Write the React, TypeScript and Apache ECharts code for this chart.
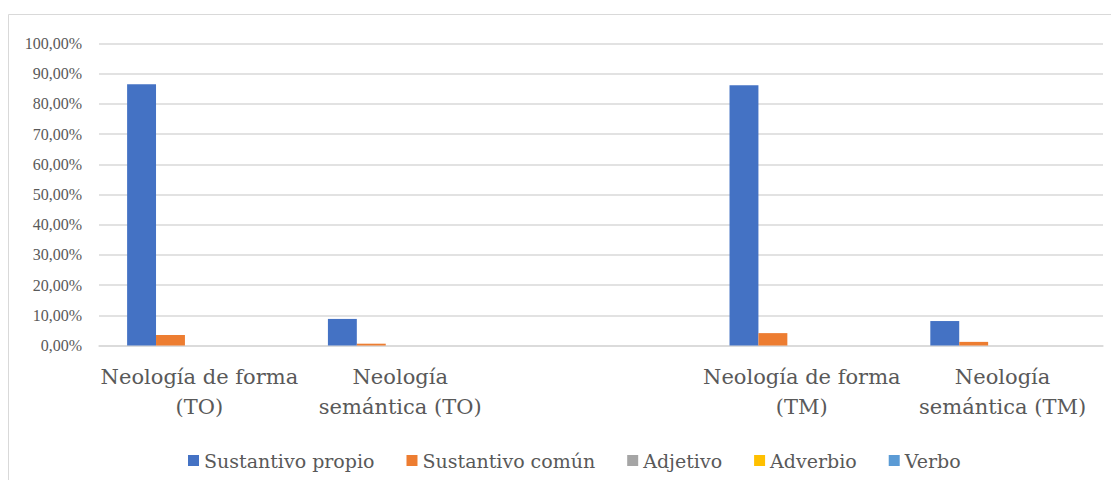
import React, { useEffect, useRef } from "react";
import * as echarts from "echarts";

const categories = [
  "Neología de forma\n(TO)",
  "Neología\nsemántica (TO)",
  "",
  "Neología de forma\n(TM)",
  "Neología\nsemántica (TM)",
];
const seriesNames = ["Sustantivo propio", "Sustantivo común", "Adjetivo", "Adverbio", "Verbo"];
const sustantivoPropio = [86.5, 8.8, null, 86.2, 8.1];
const sustantivoComun = [3.5, 0.6, null, 4.1, 1.2];
const adjetivo = [0, 0, null, 0, 0];
const adverbio = [0, 0, null, 0, 0];
const verbo = [0, 0, null, 0, 0];
const colors = ["#4472C4", "#ED7D31", "#A5A5A5", "#FFC000", "#5B9BD5"];

const SERIF = "'Liberation Serif', 'Times New Roman', serif";
const DSERIF = "'DejaVu Serif', serif";

export default function App() {
  const ref = useRef<HTMLDivElement>(null);
  useEffect(() => {
    if (!ref.current) return;
    const chart = echarts.init(ref.current, undefined, { renderer: "svg" });
    const values = [sustantivoPropio, sustantivoComun, adjetivo, adverbio, verbo];
    chart.setOption({
      animation: false,
      color: colors,
      graphic: [
        {
          type: "rect",
          shape: { x: 0.5, y: 6.5, width: 2000, height: 1000 },
          style: { fill: "none", stroke: "#d9d9d9", lineWidth: 1 },
          silent: true,
        },
      ],
      grid: { left: 91, right: 16, top: 35.5, bottom: 134.5 },
      legend: {
        left: 175,
        top: 438,
        itemWidth: 11,
        itemHeight: 11,
        itemGap: 32,
        icon: "rect",
        textStyle: { fontFamily: DSERIF, fontSize: 19, color: "#595959" },
        data: seriesNames,
      },
      xAxis: {
        type: "category",
        data: categories,
        axisTick: { show: false },
        axisLine: { lineStyle: { color: "#d9d9d9", width: 1.5 } },
        axisLabel: {
          interval: 0,
          margin: 16,
          fontFamily: DSERIF,
          fontSize: 21,
          lineHeight: 30,
          color: "#595959",
        },
      },
      yAxis: {
        type: "value",
        min: 0,
        max: 100,
        interval: 10,
        axisLine: { show: false },
        axisTick: { show: false },
        splitLine: { lineStyle: { color: "#d9d9d9", width: 1.5 } },
        axisLabel: {
          margin: 17,
          fontFamily: SERIF,
          fontSize: 16,
          color: "#595959",
          formatter: (v: number) => v.toFixed(2).replace(".", ",") + "%",
        },
      },
      series: seriesNames.map((name, i) => ({
        name,
        type: "bar",
        data: values[i],
        barGap: "0%",
        barCategoryGap: "28%",
      })),
    });
    return () => chart.dispose();
  }, []);
  return <div ref={ref} style={{ width: 1111, height: 472 }} />;
}
